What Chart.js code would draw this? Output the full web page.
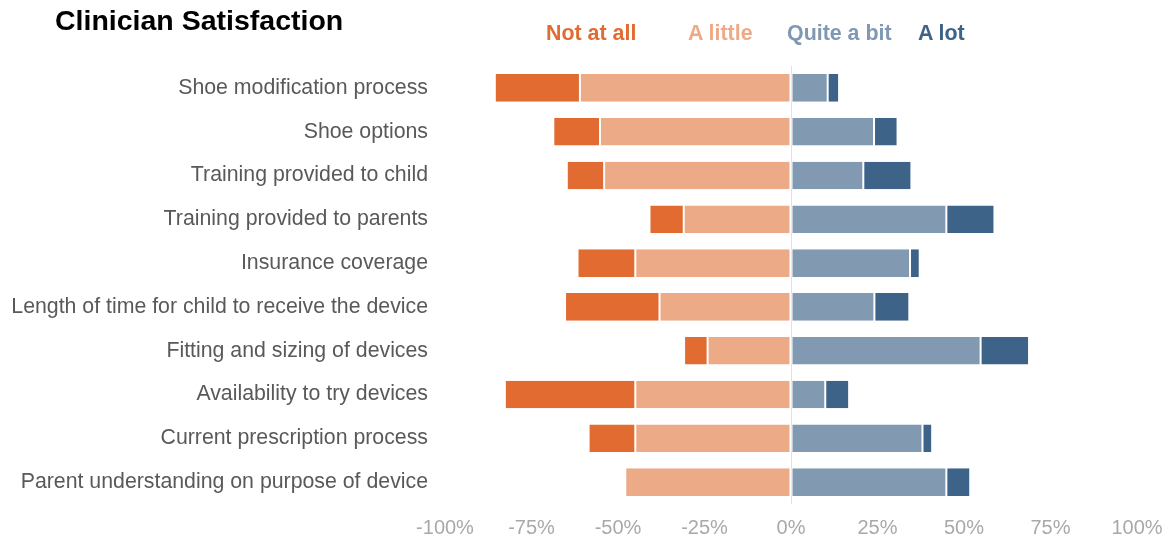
<!DOCTYPE html>
<html>
<head>
<meta charset="utf-8">
<script src="https://cdn.jsdelivr.net/npm/chart.js@4/dist/chart.umd.min.js"></script>
<style>
  html, body { margin: 0; padding: 0; background: #fff; }
  #wrap { position: relative; width: 1169px; height: 540px; font-family: "Liberation Sans", Arial, sans-serif; }
  #title { position: absolute; left: 55px; top: 4px; font-size: 28.5px; font-weight: bold; color: #000; }
  .key { position: absolute; top: 21px; font-size: 21.4px; font-weight: bold; }
  canvas { position: absolute; left: 0; top: 0; }
</style>
</head>
<body>
<div id="wrap">
  <canvas id="chart" width="1169" height="540"></canvas>
  <div id="title">Clinician Satisfaction</div>
  <div class="key" style="left:546px;color:#E26B31">Not at all</div>
  <div class="key" style="left:688px;color:#EDAA87">A little</div>
  <div class="key" style="left:787px;color:#7F98B3">Quite a bit</div>
  <div class="key" style="left:918px;color:#3E6389">A lot</div>
</div>
<script>
// survey items, top to bottom
const categories = [
  "Shoe modification process",
  "Shoe options",
  "Training provided to child",
  "Training provided to parents",
  "Insurance coverage",
  "Length of time for child to receive the device",
  "Fitting and sizing of devices",
  "Availability to try devices",
  "Current prescription process",
  "Parent understanding on purpose of device"
];

// percent of responses per level
const notAtAll  = [24.6, 13.5, 10.8, 9.9, 16.7, 27.3, 6.8, 37.7, 13.5, 0];
const aLittle   = [61.0, 55.2, 54.0, 31.0, 45.0, 38.0, 24.1, 45.0, 45.0, 47.9];
const quiteABit = [10.6, 24.0, 20.9, 44.9, 34.4, 24.1, 54.8, 9.9, 38.0, 44.9];
const aLot      = [3.3, 6.8, 13.9, 13.9, 2.8, 10.1, 14.0, 6.9, 2.8, 6.9];

const xTicks = [-100, -75, -50, -25, 0, 25, 50, 75, 100];

const FONT = "'Liberation Sans', Arial, sans-serif";

function seg(label, data, color) {
  return {
    label: label,
    data: data,
    backgroundColor: color,
    borderColor: "#ffffff",
    borderWidth: { left: 1, right: 1, top: 0, bottom: 0 },
    borderSkipped: false,
    barPercentage: 0.63,
    categoryPercentage: 1.0
  };
}

// negative side stacks outward from zero: "A little" first, then "Not at all"
const datasets = [
  seg("A little", aLittle.map(v => -v), "#EDAA87"),
  seg("Not at all", notAtAll.map(v => -v), "#E26B31"),
  seg("Quite a bit", quiteABit, "#8299B2"),
  seg("A lot", aLot, "#3E6389")
];

new Chart(document.getElementById("chart"), {
  type: "bar",
  data: { labels: categories, datasets: datasets },
  options: {
    indexAxis: "y",
    responsive: false,
    animation: false,
    layout: { padding: { top: 66, right: 32, bottom: 2, left: 0 } },
    plugins: {
      legend: { display: false },
      tooltip: { enabled: false }
    },
    scales: {
      x: {
        stacked: true,
        min: -100,
        max: 100,
        afterBuildTicks: s => { s.ticks = xTicks.map(v => ({ value: v })); },
        afterFit: s => {
          s.height = 34;
          s.paddingLeft = 0;
          s.paddingRight = 0;
        },
        ticks: {
          autoSkip: false,
          maxRotation: 0,
          padding: 12,
          color: "#A9A9A9",
          font: { family: FONT, size: 20 },
          callback: v => v + "%"
        },
        grid: {
          drawTicks: false,
          color: ctx => (ctx.tick && ctx.tick.value === 0 ? "#E2E2E2" : "rgba(0,0,0,0)")
        },
        border: { display: false }
      },
      y: {
        stacked: true,
        afterFit: s => {
          s.width = 445;
          s.paddingTop = 0;
          s.paddingBottom = 0;
        },
        ticks: {
          padding: 17,
          color: "#595959",
          font: { family: FONT, size: 21.3 }
        },
        grid: { display: false, drawTicks: false },
        border: { display: false }
      }
    }
  }
});
</script>
</body>
</html>
